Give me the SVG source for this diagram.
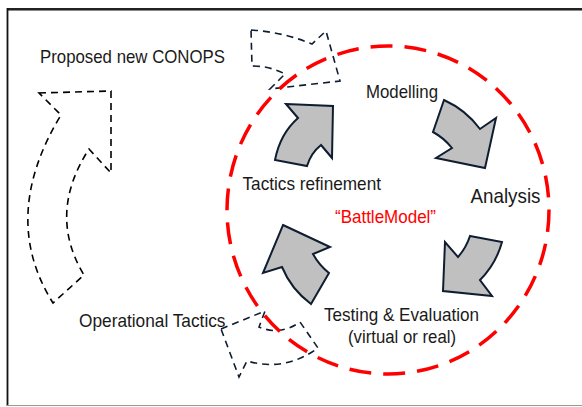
<svg xmlns="http://www.w3.org/2000/svg" width="582" height="407" viewBox="0 0 582 407">
  <style>
    .lbl { font-family: "Liberation Sans", Arial, sans-serif; font-size: 18.5px; fill: #1a1a1a; }
    .big { font-size: 21px; }
    .red { fill: #ff0000; }
    .garrow { fill: #c0c0c0; stroke: #0f1d30; stroke-width: 2; stroke-linejoin: miter; }
    .darrow { fill: none; stroke: #0f1d30; stroke-width: 1.6; stroke-dasharray: 7 5; }
    .darrowk { fill: none; stroke: #000; stroke-width: 1.6; stroke-dasharray: 7 5; }
    .ring { fill: none; stroke: #ff0000; stroke-width: 3.5; stroke-dasharray: 22 12; }
  </style>
  <rect x="0" y="0" width="582" height="407" fill="#ffffff"/>
  <g id="frame">
    <line x1="7" y1="9" x2="582" y2="9" stroke="#222" stroke-width="2"/>
    <line x1="7" y1="10.5" x2="582" y2="10.5" stroke="#888" stroke-width="1"/>
    <line x1="7.5" y1="8" x2="7.5" y2="406" stroke="#111" stroke-width="1.8"/>
    <line x1="7" y1="405.5" x2="582" y2="405.5" stroke="#999" stroke-width="1.2"/>
  </g>
  <g id="connectors">
    <path id="conops-loop" class="darrowk" d="M39,93 L111,91 L111,173 L89,149 Q47,214 84,275 L53,303 Q-1,217 61,115 Z"/>
    <path id="top-loop" class="darrow" d="M251,30 Q283,32 312,44 L326,31 L340,81 L270,89 L285,74 Q270,66 252,66 Z"/>
    <path id="bottom-loop" class="darrow" d="M221,329 L265,311 L259,327 Q280,336 300,322 L318,348 Q285,372 247,361 L239,377 Z"/>
  </g>
  <g id="battlemodel">
    <ellipse class="ring" cx="388" cy="210" rx="161" ry="164"/>
    <text class="lbl red" x="335" y="223" textLength="101" lengthAdjust="spacingAndGlyphs">“BattleModel”</text>
  </g>
  <g id="cycle-arrows">
    <path id="arrow-refine-model" class="garrow" d="M286,104 L333,106 L332,158 L321,145 Q311,153 307,166 L275,160 Q280,134 298,118 Z"/>
    <path id="arrow-model-analysis" class="garrow" d="M444,100 Q466,110 480,129 L496,118 L485,168 L436,158 L452,148 Q444,138 433,132 Z"/>
    <path id="arrow-analysis-test" class="garrow" d="M470,236 L502,242 Q496,264 480,280 L492,296 L443,291 L445,242 L458,257 Q466,248 470,236 Z"/>
    <path id="arrow-test-refine" class="garrow" d="M283,225 L330,247 L313,254 Q319,265 329,273 L311,304 Q291,289 282,267 L263,273 Z"/>
  </g>
  <g id="proposed-conops">
    <text class="lbl" x="40" y="62.5" textLength="185" lengthAdjust="spacingAndGlyphs">Proposed new CONOPS</text>
  </g>
  <g id="modelling">
    <text class="lbl" x="366" y="98" textLength="72" lengthAdjust="spacingAndGlyphs">Modelling</text>
  </g>
  <g id="analysis">
    <text class="lbl big" x="470.5" y="203" textLength="70" lengthAdjust="spacingAndGlyphs">Analysis</text>
  </g>
  <g id="tactics-refinement">
    <text class="lbl" x="242.5" y="190" textLength="138.5" lengthAdjust="spacingAndGlyphs">Tactics refinement</text>
  </g>
  <g id="testing-evaluation">
    <text class="lbl" x="324" y="320.7" textLength="155" lengthAdjust="spacingAndGlyphs">Testing &amp; Evaluation</text>
    <text class="lbl" x="348" y="343" textLength="108" lengthAdjust="spacingAndGlyphs">(virtual or real)</text>
  </g>
  <g id="operational-tactics">
    <text class="lbl" x="79" y="326.7" textLength="146.5" lengthAdjust="spacingAndGlyphs">Operational Tactics</text>
  </g>
</svg>
